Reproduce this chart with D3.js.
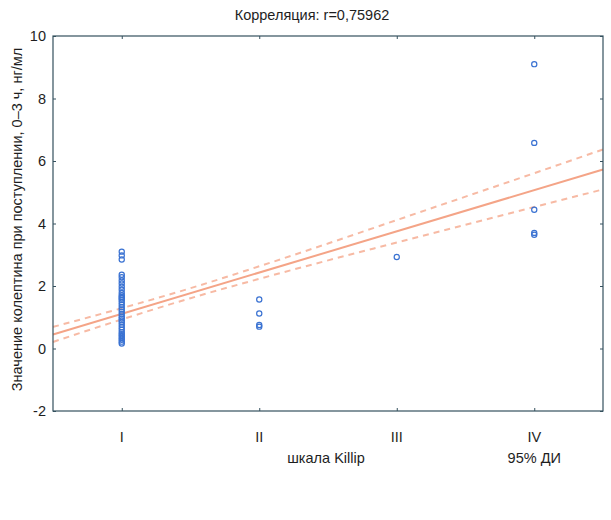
<!DOCTYPE html>
<html>
<head>
<meta charset="utf-8">
<script src="https://cdn.jsdelivr.net/npm/d3@7"></script>
<style>
  body { margin: 0; background: #fff; }
  svg text { font-family: "Liberation Sans", Arial, sans-serif; fill: #1e1e1e; }
</style>
</head>
<body>
<svg width="611" height="520"></svg>
<script>
// categories on the Killip scale
const categories = ["I", "II", "III", "IV"];

// observed values per category (ng/ml)
const valuesI = [3.1, 2.98, 2.85, 2.36, 2.28, 2.18, 2.08, 1.98, 1.88, 1.78, 1.7, 1.65, 1.6, 1.55,
                 1.48, 1.4, 1.32, 1.25, 1.18, 1.1, 1.02, 0.96, 0.9, 0.84, 0.76, 0.68, 0.6, 0.52,
                 0.46, 0.4, 0.34, 0.28, 0.22, 0.16];
const valuesII = [1.57, 1.12, 0.75, 0.7];
const valuesIII = [2.93];
const valuesIV = [9.1, 6.58, 4.44, 3.7, 3.64];

// regression line and 95% confidence band
const intercept = -0.21;
const slope = 1.32;
const ciX = [0.5, 1, 1.5, 2, 2.5, 3, 3.5, 4, 4.5];
const ciHalf = [0.24, 0.18, 0.16, 0.2, 0.27, 0.36, 0.45, 0.54, 0.64];

const yTicks = [-2, 0, 2, 4, 6, 8, 10];

const title = "Корреляция: r=0,75962";
const xTitle = "шкала Killip";
const yTitle = "Значение колептина при поступлении, 0–3 ч, нг/мл";
const ciLabel = "95% ДИ";

const margin = { top: 36, right: 8, bottom: 109, left: 53 };
const width = 611, height = 520;

var svg = d3.select("svg");

var x = d3.scaleLinear()
    .domain([0.5, 4.5])
    .range([margin.left, width - margin.right]);

var y = d3.scaleLinear()
    .domain([-2, 10])
    .range([height - margin.bottom, margin.top]);

const axisColor = "#34505e";

// band and regression lines
var band = svg.append("g").attr("fill", "none");

var lineGen = d3.line().x(d => x(d[0])).y(d => y(d[1]));

band.append("path")
    .datum(ciX.map((v, i) => [v, intercept + slope * v + ciHalf[i]]))
    .attr("d", lineGen.curve(d3.curveMonotoneX))
    .attr("stroke", "#f7baa4")
    .attr("stroke-width", 2)
    .attr("stroke-dasharray", "6,5");

band.append("path")
    .datum(ciX.map((v, i) => [v, intercept + slope * v - ciHalf[i]]))
    .attr("d", lineGen.curve(d3.curveMonotoneX))
    .attr("stroke", "#f7baa4")
    .attr("stroke-width", 2)
    .attr("stroke-dasharray", "6,5");

band.append("path")
    .datum(x.domain().map(v => [v, intercept + slope * v]))
    .attr("d", lineGen.curve(d3.curveLinear))
    .attr("stroke", "#f4a487")
    .attr("stroke-width", 2);

// points
var points = [valuesI, valuesII, valuesIII, valuesIV]
    .flatMap((vals, i) => vals.map(v => ({ cat: i + 1, value: v })));

svg.append("g")
    .selectAll("circle")
    .data(points)
    .enter().append("circle")
        .attr("cx", d => x(d.cat))
        .attr("cy", d => y(d.value))
        .attr("r", 2.6)
        .attr("fill", "none")
        .attr("stroke", "#3a72d2")
        .attr("stroke-width", 1.2);

// axes (ticks inside the frame)
var xLeft = x.range()[0], xRight = x.range()[1];
var yTop = y.range()[1], yBottom = y.range()[0];

var yAxis = g => g
    .attr("transform", `translate(${xLeft},0)`)
    .call(d3.axisRight(y).tickValues(yTicks).tickSize(3).tickFormat(""))
    .call(g => g.select(".domain").remove());

var yAxisR = g => g
    .attr("transform", `translate(${xRight},0)`)
    .call(d3.axisLeft(y).tickValues(yTicks).tickSize(3).tickFormat(""))
    .call(g => g.select(".domain").remove());

var xAxisB = g => g
    .attr("transform", `translate(0,${yBottom})`)
    .call(d3.axisTop(x).tickValues([1, 2, 3, 4]).tickSize(3).tickFormat(""))
    .call(g => g.select(".domain").remove());

var xAxisT = g => g
    .attr("transform", `translate(0,${yTop})`)
    .call(d3.axisBottom(x).tickValues([1, 2, 3, 4]).tickSize(3).tickFormat(""))
    .call(g => g.select(".domain").remove());

[yAxis, yAxisR, xAxisB, xAxisT].forEach(a => {
    svg.append("g").call(a).selectAll("line").attr("stroke", axisColor);
});

svg.append("rect")
    .attr("x", xLeft)
    .attr("y", yTop)
    .attr("width", xRight - xLeft)
    .attr("height", yBottom - yTop)
    .attr("fill", "none")
    .attr("stroke", axisColor)
    .attr("stroke-width", 1.2);

// tick labels
svg.append("g")
    .attr("text-anchor", "end")
    .style("font-size", "14.5px")
  .selectAll("text")
  .data(yTicks)
  .enter().append("text")
    .attr("x", xLeft - 7)
    .attr("y", d => y(d))
    .attr("dy", "0.35em")
    .text(d => d);

svg.append("g")
    .attr("text-anchor", "middle")
    .style("font-size", "14.5px")
  .selectAll("text")
  .data(categories)
  .enter().append("text")
    .attr("x", (d, i) => x(i + 1))
    .attr("y", yBottom + 26)
    .attr("dy", "0.35em")
    .text(d => d);

// titles
svg.append("text")
    .attr("x", 312)
    .attr("y", 15)
    .attr("dy", "0.35em")
    .attr("text-anchor", "middle")
    .style("font-size", "14.5px")
    .text(title);

svg.append("text")
    .attr("x", 326)
    .attr("y", 458)
    .attr("dy", "0.35em")
    .attr("text-anchor", "middle")
    .style("font-size", "14.5px")
    .text(xTitle);

svg.append("text")
    .attr("x", x(4))
    .attr("y", 458)
    .attr("dy", "0.35em")
    .attr("text-anchor", "middle")
    .style("font-size", "14.5px")
    .text(ciLabel);

svg.append("text")
    .attr("transform", `translate(17,${(yTop + yBottom) / 2 - 4}) rotate(-90)`)
    .attr("dy", "0.35em")
    .attr("text-anchor", "middle")
    .style("font-size", "14.5px")
    .text(yTitle);
</script>
</body>
</html>
